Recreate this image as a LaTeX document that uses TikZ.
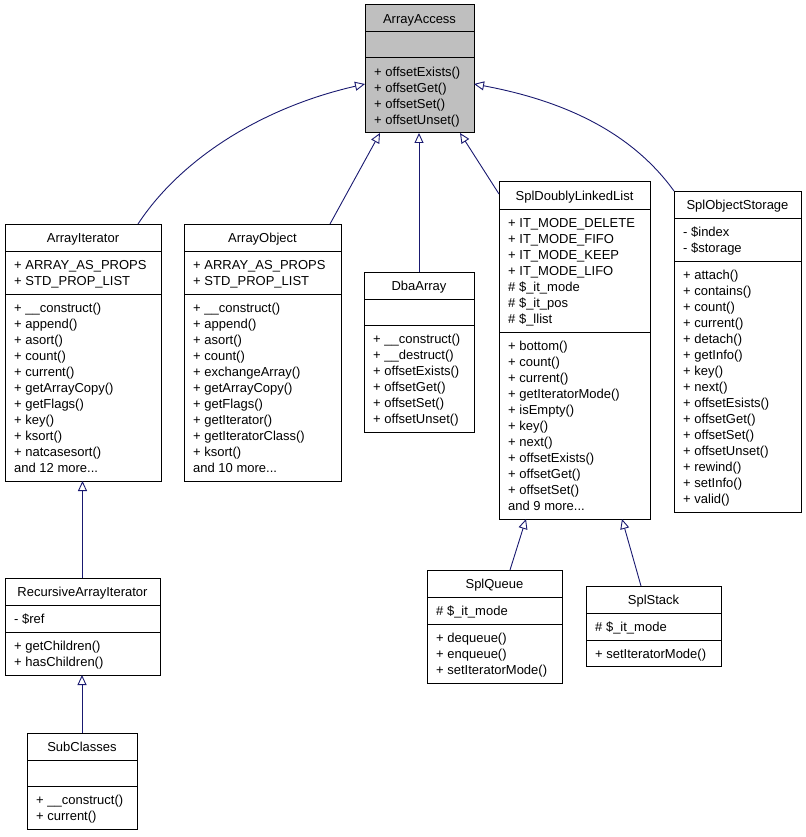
\documentclass[tikz,border=0pt]{standalone}
\usepackage{fontspec}
\setmainfont{Liberation Sans}
\usetikzlibrary{arrows.meta,calc}
\definecolor{edgec}{HTML}{191970}
\definecolor{focusfill}{HTML}{BFBFBF}
\tikzset{
  cls/.style={draw=black, line width=1pt, inner sep=0pt, outer sep=0pt},
  ttl/.style={font=\fontsize{13}{16}\selectfont, inner sep=0pt, text height=9.5pt, text depth=2.5pt},
  txt/.style={ttl, anchor=west},
  sepline/.style={draw=black, line width=1pt},
  inh/.style={draw=edgec, line width=0.9pt, -{Triangle[open, length=10pt, width=9pt]}}
}
\newcommand\andmore[1]{and #1 more...}
% #1 name, #2 x1, #3 top, #4 x2, #5 bottom, #6 title, #7 fill
\newcommand\umlclass[7]{%
  \node[cls, fill=#7, anchor=north west, minimum width={(#4-#2)*1pt}, minimum height={(#5-#3)*1pt}] (#1) at (#2,#3) {};
  \node[ttl] (#1-title) at ({(#2+#4)/2}, #3+15) {#6};
}
% #1 x1, #2 x2, #3 y
\newcommand\umlsep[3]{\draw[sepline] (#1,#3) -- (#2,#3);}
% #1 x1, #2 y of separator above, #3 lines
\newcommand\umllines[3]{%
  \foreach \t [count=\k from 0] in {#3} {\node[txt] at (#1+9, #2+15+16*\k) {\t};}%
}
\begin{document}
\begin{tikzpicture}[x=1pt, y=-1pt]
\useasboundingbox (0,0) rectangle (805,837);

% ArrayAccess
\umlclass{aa}{365}{5}{474}{133}{ArrayAccess}{focusfill}
\umlsep{365}{474}{32}\umlsep{365}{474}{58}
\umllines{365}{58}{+ offsetExists(),+ offsetGet(),+ offsetSet(),+ offsetUnset()}

% ArrayIterator
\umlclass{ai}{5}{224}{161}{481}{ArrayIterator}{white}
\umlsep{5}{161}{251}\umlsep{5}{161}{294}
\umllines{5}{251}{+ ARRAY\_AS\_PROPS,+ STD\_PROP\_LIST}
\umllines{5}{294}{+ \_\_construct(),+ append(),+ asort(),+ count(),+ current(),+ getArrayCopy(),+ getFlags(),+ key(),+ ksort(),+ natcasesort(),\andmore{12}}

% ArrayObject
\umlclass{ao}{184}{224}{341}{481}{ArrayObject}{white}
\umlsep{184}{341}{251}\umlsep{184}{341}{294}
\umllines{184}{251}{+ ARRAY\_AS\_PROPS,+ STD\_PROP\_LIST}
\umllines{184}{294}{+ \_\_construct(),+ append(),+ asort(),+ count(),+ exchangeArray(),+ getArrayCopy(),+ getFlags(),+ getIterator(),+ getIteratorClass(),+ ksort(),\andmore{10}}

% DbaArray
\umlclass{dba}{364}{272}{474}{432}{DbaArray}{white}
\umlsep{364}{474}{299}\umlsep{364}{474}{325}
\umllines{364}{325}{+ \_\_construct(),+ \_\_destruct(),+ offsetExists(),+ offsetGet(),+ offsetSet(),+ offsetUnset()}

% SplDoublyLinkedList
\umlclass{sdl}{499}{182}{650}{519}{SplDoublyLinkedList}{white}
\umlsep{499}{650}{209}\umlsep{499}{650}{332}
\umllines{499}{209}{+ IT\_MODE\_DELETE,+ IT\_MODE\_FIFO,+ IT\_MODE\_KEEP,+ IT\_MODE\_LIFO,\# \$\_it\_mode,\# \$\_it\_pos,\# \$\_llist}
\umllines{499}{332}{+ bottom(),+ count(),+ current(),+ getIteratorMode(),+ isEmpty(),+ key(),+ next(),+ offsetExists(),+ offsetGet(),+ offsetSet(),\andmore{9}}

% SplObjectStorage
\umlclass{sos}{674}{191}{801}{512}{SplObjectStorage}{white}
\umlsep{674}{801}{218}\umlsep{674}{801}{261}
\umllines{674}{218}{- \$index,- \$storage}
\umllines{674}{261}{+ attach(),+ contains(),+ count(),+ current(),+ detach(),+ getInfo(),+ key(),+ next(),+ offsetEsists(),+ offsetGet(),+ offsetSet(),+ offsetUnset(),+ rewind(),+ setInfo(),+ valid()}

% RecursiveArrayIterator
\umlclass{rai}{5}{578}{160}{675}{RecursiveArrayIterator}{white}
\umlsep{5}{160}{605}\umlsep{5}{160}{632}
\umllines{5}{605}{- \$ref}
\umllines{5}{632}{+ getChildren(),+ hasChildren()}

% SubClasses
\umlclass{sc}{27}{733}{137}{829}{SubClasses}{white}
\umlsep{27}{137}{760}\umlsep{27}{137}{786}
\umllines{27}{786}{+ \_\_construct(),+ current()}

% SplQueue
\umlclass{sq}{427}{570}{562}{683}{SplQueue}{white}
\umlsep{427}{562}{597}\umlsep{427}{562}{624}
\umllines{427}{597}{\# \$\_it\_mode}
\umllines{427}{624}{+ dequeue(),+ enqueue(),+ setIteratorMode()}

% SplStack
\umlclass{ss}{586}{586}{721}{666}{SplStack}{white}
\umlsep{586}{721}{613}\umlsep{586}{721}{640}
\umllines{586}{613}{\# \$\_it\_mode}
\umllines{586}{640}{+ setIteratorMode()}

% inheritance edges
\draw[inh] ($(ai.north west)+(133,0)$) .. controls (180,160) and (260,108) .. ($(aa.north west)+(0,79)$);
\draw[inh] ($(ao.north west)+(146,0)$) -- ($(aa.south west)+(15,0)$);
\draw[inh] (dba.north) -- (dba.north |- aa.south);
\draw[inh] ($(sdl.north west)+(0,12)$) -- ($(aa.south east)+(-14,0)$);
\draw[inh] (sos.north west) .. controls (630,130) and (560,100) .. ($(aa.north east)+(0,79)$);
\draw[inh] (rai.north) -- (rai.north |- ai.south);
\draw[inh] (sc.north) -- (sc.north |- rai.south);
\draw[inh] ($(sq.north west)+(83,0)$) -- ($(sdl.south west)+(27,0)$);
\draw[inh] ($(ss.north west)+(55,0)$) -- ($(sdl.south west)+(123,0)$);
\end{tikzpicture}
\end{document}
